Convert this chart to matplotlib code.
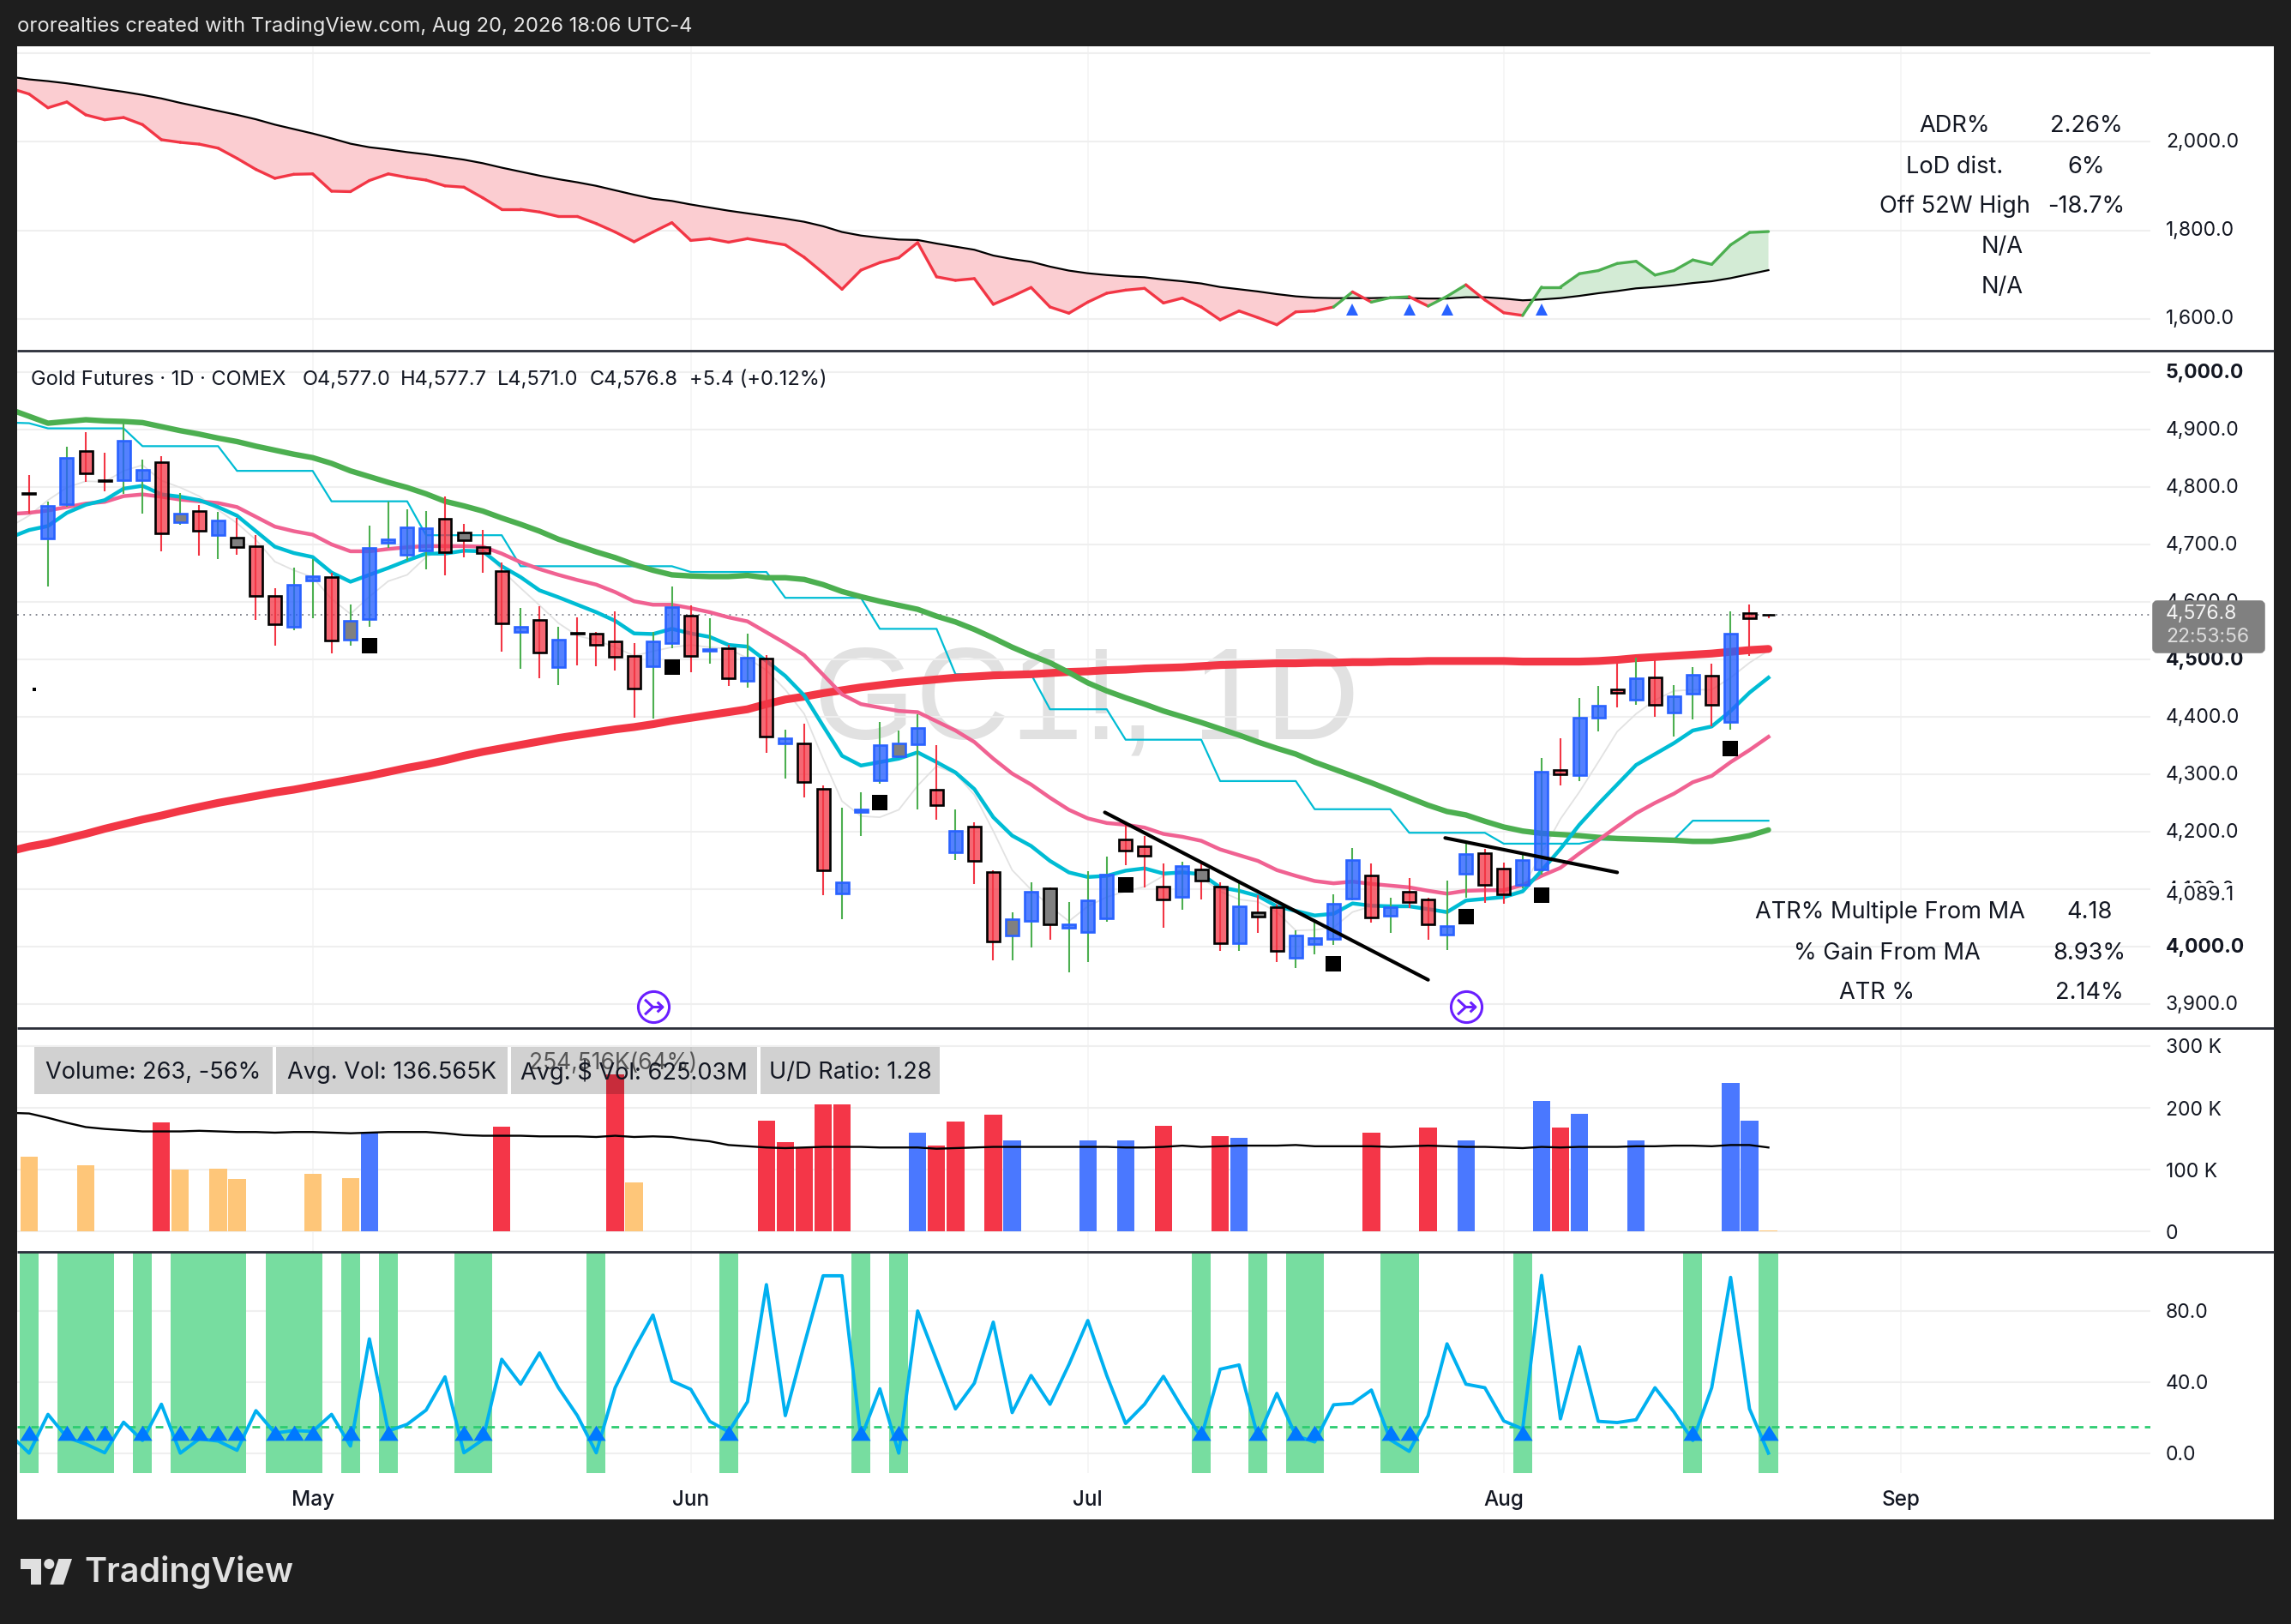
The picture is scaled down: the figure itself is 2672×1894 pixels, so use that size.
import numpy as np
import matplotlib
matplotlib.use("Agg")
import matplotlib.pyplot as plt
from matplotlib.patches import Rectangle, Polygon, Circle, FancyBboxPatch
from matplotlib.path import Path
from matplotlib.transforms import ScaledTranslation

plt.rcParams['font.family'] = ['Inter', 'DejaVu Sans']

# ---------- data ----------
opens = [4790,4710,4770,4862,4812,4812,4812,4843,4739,4758,4717,4712,4697,4611,4556,4637,4643,4534,4570,4703,
         4682,4690,4745,4721,4695,4654,4548,4569,4486,4546,4544,4531,4506,4488,4528,4576,4515,4519,4463,4502,
         4353,4354,4275,4093,4234,4289,4331,4352,4273,4164,4209,4129,4019,4044,4101,4032,4025,4049,4187,4175,
         4105,4087,4134,4105,4006,4059,4068,3980,4005,4013,4084,4124,4053,4095,4082,4020,4127,4163,4135,4108,
         4134,4307,4298,4399,4447,4429,4468,4408,4440,4472,4391,4580,4577.0]
highs = [4821,4774,4870,4895,4860,4918,4847,4854,4790,4769,4756,4746,4716,4623,4659,4674,4651,4596,4733,4775,
         4761,4758,4783,4736,4725,4669,4589,4593,4557,4573,4547,4583,4528,4547,4626,4594,4572,4525,4544,4508,
         4377,4388,4281,4242,4269,4391,4376,4404,4350,4239,4216,4132,4060,4112,4103,4078,4131,4157,4214,4192,
         4145,4148,4145,4112,4111,4090,4073,4028,4047,4091,4172,4145,4085,4119,4085,4114,4180,4170,4146,4164,
         4328,4363,4432,4453,4494,4503,4498,4455,4486,4493,4583,4596,4577.7]
lows = [4754,4627,4765,4809,4793,4788,4753,4688,4734,4681,4674,4682,4568,4523,4551,4571,4511,4523,4557,4694,
        4672,4656,4646,4677,4650,4513,4483,4467,4455,4489,4488,4481,4399,4397,4519,4477,4493,4454,4451,4337,
        4293,4260,4090,4047,4192,4284,4328,4238,4221,4151,4109,3976,3976,3998,4012,3955,3973,4043,4141,4103,
        4032,4064,4082,3993,3992,4023,3973,3963,3986,4003,4081,4042,4024,4067,4011,3994,4085,4076,4075,4102,
        4125,4281,4288,4375,4417,4421,4400,4366,4396,4384,4378,4506,4571.0]
closes = [4788,4767,4850,4824,4810,4880,4829,4720,4753,4724,4741,4695,4610,4561,4629,4644,4533,4567,4694,4709,
          4730,4728,4687,4707,4685,4563,4557,4512,4534,4544,4525,4504,4449,4531,4591,4506,4518,4467,4503,4365,
          4363,4286,4133,4112,4238,4351,4354,4381,4246,4202,4149,4009,4047,4096,4039,4038,4081,4125,4167,4158,
          4082,4140,4114,4006,4070,4052,3993,4019,4015,4075,4151,4051,4069,4078,4039,4035,4161,4107,4091,4151,
          4305,4300,4399,4419,4441,4467,4420,4436,4473,4420,4544,4571,4576.8]
gray_bars = [8, 11, 17, 23, 46, 52, 54, 62, 65]
signal_bars = [18, 34, 45, 58, 69, 76, 80, 90]
signal_prices = [4524, 4487, 4251, 4108, 3970, 4052, 4090, 4345]
last_price = 4576.8

# moving averages: first value belongs to the bar just left of the view
ma_slow = [4935,4923,4911,4914,4917,4915,4914,4912,4905,4898,4892,4885,4879,4871,4864,4857,4851,4841,4828,4818,4808,
           4799,4788,4775,4767,4758,4746,4735,4723,4709,4698,4687,4677,4665,4655,4647,4645,4644,4644,4646,4642,
           4642,4639,4630,4618,4609,4601,4594,4587,4575,4565,4552,4537,4521,4507,4494,4477,4459,4445,4433,4422,
           4410,4400,4390,4379,4368,4356,4345,4335,4321,4309,4297,4285,4272,4259,4246,4235,4229,4218,4208,4201,
           4197,4195,4193,4190,4188,4187,4186,4185,4183,4183,4187,4193,4203]
ma_long = [4166,4174,4180,4188,4196,4205,4213,4221,4228,4236,4243,4250,4256,4262,4268,4273,4279,4285,4291,4297,4304,
           4311,4317,4324,4332,4339,4345,4351,4357,4363,4368,4373,4378,4382,4387,4393,4398,4403,4408,4413,4422,
           4430,4435,4441,4446,4451,4455,4459,4462,4465,4468,4470,4472,4473,4474,4476,4478,4479,4481,4482,4484,
           4485,4486,4488,4490,4491,4492,4493,4493,4494,4494,4495,4495,4496,4496,4497,4497,4497,4497,4497,4496,
           4496,4496,4496,4497,4499,4502,4504,4506,4508,4510,4513,4516,4518]
ma_mid = [4753,4755,4759,4765,4771,4774,4784,4787,4783,4778,4775,4772,4765,4748,4731,4723,4717,4700,4688,4688,4692,
          4695,4697,4697,4697,4696,4684,4669,4657,4647,4638,4630,4617,4601,4595,4595,4589,4582,4573,4566,4547,
          4528,4507,4473,4439,4422,4416,4410,4408,4392,4376,4356,4327,4301,4282,4259,4238,4223,4215,4212,4207,
          4196,4191,4184,4169,4159,4149,4133,4123,4114,4110,4113,4109,4106,4103,4097,4092,4097,4098,4098,4107,
          4123,4137,4162,4185,4209,4232,4250,4266,4286,4297,4321,4342,4365]
ma_fast = [4712,4725,4732,4755,4769,4777,4797,4802,4787,4783,4777,4765,4750,4723,4696,4685,4678,4651,4635,4647,4659,
           4672,4684,4684,4689,4688,4662,4643,4620,4608,4595,4582,4567,4545,4544,4553,4545,4539,4525,4522,4497,
           4471,4437,4384,4332,4315,4321,4327,4338,4321,4303,4274,4225,4193,4175,4149,4129,4121,4123,4132,4136,
           4127,4129,4126,4103,4097,4088,4070,4062,4054,4057,4075,4071,4070,4070,4065,4060,4080,4083,4086,4096,
           4132,4170,4212,4248,4282,4316,4335,4354,4376,4383,4410,4442,4468]
ma_thin = [4731,4750,4777,4799,4810,4809,4828,4838,4811,4799,4784,4760,4737,4708,4670,4655,4643,4605,4579,4609,4636,
           4647,4678,4693,4697,4693,4655,4624,4594,4563,4541,4533,4521,4506,4514,4521,4525,4521,4518,4502,4481,
           4447,4405,4327,4253,4227,4225,4238,4280,4314,4301,4264,4201,4133,4099,4070,4044,4070,4086,4096,4104,
           4123,4133,4120,4096,4082,4078,4060,4028,4029,4033,4060,4070,4070,4070,4065,4057,4078,4084,4086,4102,
           4162,4222,4269,4321,4374,4405,4429,4445,4447,4447,4468,4494,4515]
stair = [4912,4911,4902,4902,4902,4902,4902,4871,4871,4871,4871,4871,4828,4828,4828,4828,4828,4775,4775,4775,4775,
         4775,4716,4716,4716,4716,4716,4662,4662,4662,4662,4662,4662,4662,4662,4662,4652,4652,4652,4652,4652,
         4607,4607,4607,4607,4607,4553,4553,4553,4553,4474,4474,4474,4474,4474,4413,4413,4413,4413,4360,4360,
         4360,4360,4360,4288,4288,4288,4288,4288,4239,4239,4239,4239,4239,4198,4198,4198,4198,4198,4179,4179,
         4179,4179,4179,4186,4186,4186,4186,4186,4219,4219,4219,4219,4219]
trend_a_x = [56.9, 74.0]
trend_a_y = [4233.5, 3942]
trend_b_x = [74.9, 84.0]
trend_b_y = [4189, 4129]
event_bars = [33, 76]
event_level = 3895

# relative strength pane
rs_line = [2120,2107,2076,2089,2060,2049,2054,2038,2004,1998,1994,1985,1962,1937,1917,1926,1927,1888,1887,1912,1927,
           1919,1913,1900,1897,1873,1847,1847,1841,1831,1831,1815,1796,1774,1796,1817,1777,1781,1773,1781,1774,
           1767,1739,1704,1667,1710,1727,1738,1772,1695,1687,1691,1633,1651,1671,1627,1613,1638,1658,1665,1669,
           1636,1647,1627,1598,1618,1603,1587,1616,1618,1627,1661,1638,1648,1650,1629,1651,1677,1643,1614,1608,
           1672,1672,1702,1709,1725,1730,1699,1709,1733,1723,1767,1795,1797]
rs_ma = [2146,2140,2136,2131,2125,2118,2112,2105,2097,2087,2078,2069,2060,2050,2038,2028,2018,2007,1995,1987,1982,
         1976,1971,1965,1959,1951,1941,1932,1923,1915,1908,1900,1890,1880,1871,1866,1858,1851,1844,1838,1832,
         1826,1819,1809,1796,1788,1783,1779,1778,1770,1763,1756,1743,1735,1729,1718,1709,1703,1699,1696,1694,
         1689,1685,1680,1672,1667,1662,1656,1651,1648,1647,1647,1647,1648,1647,1646,1646,1649,1649,1646,1642,
         1644,1647,1652,1658,1663,1669,1672,1676,1681,1685,1692,1701,1710]
rs_marks = [70, 73, 75, 80]
rs_mark_level = 1622

# volume pane (thousands)
vol_idx = [0,3,7,8,10,11,15,17,18,25,31,32,39,40,41,42,43,47,48,49,51,52,56,58,60,63,64,71,74,76,80,81,82,85,90,91,92]
vol_val = [121,107,176,100,102,85,93,87,160,169,254,80,179,144,137,205,205,160,139,178,189,147,147,147,171,154,151,160,168,148,211,168,190,147,241,180,2]
vol_kind = ['o','o','r','o','o','o','o','o','b','r','r','o','r','r','r','r','r','b','r','r','r','b','b','b','r','r','b','r','r','b','b','r','b','b','b','b','o']
vol_ma = [192,191,184,176,169,166,164,162,162,162,163,162,161,161,160,161,161,160,159,160,161,161,161,159,156,155,155,155,154,
          154,154,153,155,153,154,153,149,146,140,138,136,135,136,137,137,137,136,136,136,134,135,136,137,137,137,137,137,137,
          137,136,136,137,139,137,138,139,139,139,140,138,138,138,138,137,138,139,138,137,137,136,135,137,136,137,137,137,138,
          138,139,139,138,140,140,136]

# oscillator pane
osc = [10.3,0,21.8,8.9,5.1,0.2,17.4,7.1,27.5,0,8,6.8,1.6,23.9,11.3,12.7,12.2,21.8,4,64.3,12.4,16.2,24.2,42.9,0.2,7.5,
       52.8,38.8,56.4,36.8,21.1,0.2,36.8,58.5,77.7,40.6,35.9,17.9,12,28.9,94.8,21.1,61.1,99.8,99.8,8.4,36.2,0,80,52.4,
       24.9,39.4,73.7,22.8,43.7,27.5,49.8,74.6,43.7,16.7,27.5,43.2,25.4,8.9,47.2,49.6,8.9,33.6,9.8,6.3,27.2,28,35.5,7.5,
       1,21.1,61.5,38.8,36.8,18.1,13.6,100,19.3,59.8,17.9,17.2,18.8,36.8,23.2,7.1,36.8,98.9,24.9,0]
osc_level = 14.6
osc_zone = [0,2,3,4,6,8,9,10,11,13,14,15,17,19,23,24,30,37,44,46,62,65,67,68,72,73,79,88,92]

month_pos = [15, 35, 56, 78, 99]
month_names = ['May', 'Jun', 'Jul', 'Aug', 'Sep']
price_ticks = list(range(3900, 5001, 100))
price_bold = [4000, 4500, 5000]
rs_ticks = [1600, 1800, 2000, 2200]
rs_labelled = [1600, 1800, 2000]
vol_ticks = [0, 100, 200, 300]
vol_tick_names = ['0', '100 K', '200 K', '300 K']
osc_ticks = [0, 40, 80]

# ---------- layout ----------
W, H = 2672, 1894
DARK = '#1e1e1e'; INK = '#131722'; GRID = '#efefef'; VGRID = '#f4f4f4'
RED = '#f23645'; BLUE = '#2962ff'; GREEN = '#4caf50'
fig = plt.figure(figsize=(W/100, H/100), dpi=100, facecolor=DARK)

def pane(top, bottom, z=1):
    a = fig.add_axes([20/W, 1-bottom/H, (2507.5-20)/W, (bottom-top)/H], zorder=z)
    a.patch.set_visible(False)
    for s in a.spines.values():
        s.set_visible(False)
    a.set_xlim(-0.63, 112.18)
    a.set_xticks(month_pos)
    a.set_xticklabels([])
    a.tick_params(length=0, labelsize=16.5, labelcolor=INK)
    a.yaxis.tick_right()
    a.tick_params(axis='y', pad=13.3)
    a.grid(True, axis='x', color=VGRID, lw=1.1)
    a.grid(True, axis='y', color=GRID, lw=1.5)
    a.set_axisbelow(True)
    return a

def lift_labels(a, px):
    shift = ScaledTranslation(0, px/100, fig.dpi_scale_trans)
    for lab in a.get_yticklabels():
        lab.set_transform(lab.get_transform() + shift)

bg = fig.add_axes([0, 0, 1, 1], zorder=0)
bg.set_xlim(0, W); bg.set_ylim(H, 0); bg.axis('off')
bg.add_patch(Rectangle((20, 54), 2632, 1718, fc='white', ec='none'))

ax_rs = pane(54, 409)
ax_p = pane(409, 1199)
ax_v = pane(1199, 1459.5)
ax_o = pane(1459.5, 1718)

x_all = np.arange(-1, 93)
x = np.arange(93)

# ---------- top pane ----------
ax_rs.set_ylim(1528.5, 2214.5)
ax_rs.set_yticks(rs_ticks)
ax_rs.set_yticklabels([f'{t:,.1f}' if t in rs_labelled else '' for t in rs_ticks])
lift_labels(ax_rs, 2)
rs = np.array(rs_line, float); rm = np.array(rs_ma, float)
ax_rs.fill_between(x_all, rs, rm, where=rs < rm, interpolate=True, color='#fbcdd1', lw=0, zorder=2)
ax_rs.fill_between(x_all, rs, rm, where=rs >= rm, interpolate=True, color='#d3ebd5', lw=0, zorder=2)
ax_rs.plot(x_all, rs_ma, color='black', lw=1.6, zorder=3)
for j in range(len(x_all)-1):
    ax_rs.plot(x_all[j:j+2], rs[j:j+2], color=GREEN if rs[j+1] >= rm[j+1] else RED,
               lw=2.4, solid_capstyle='round', zorder=4)
ax_rs.plot(rs_marks, [rs_mark_level]*len(rs_marks), ls='none', marker='^', ms=10, color=BLUE, mew=0, zorder=5)

# ---------- price pane ----------
ax_p.set_ylim(3858, 5037.2)
ax_p.set_yticks(price_ticks)
ax_p.set_yticklabels([f'{t:,.1f}' for t in price_ticks])
for lab, t_ in zip(ax_p.get_yticklabels(), price_ticks):
    if t_ in price_bold:
        lab.set_fontweight('bold')
lift_labels(ax_p, 1.5)
ax_p.text(0.3735, 0.476, 'GC1!, 1D', transform=ax_p.transAxes, fontsize=110, color='#e1e1e1',
          family='Liberation Sans', ha='left', va='center', zorder=0.5)
ax_p.axhline(last_price, color='#787b86', lw=1.3, ls=(0, (1, 3)), zorder=1)
ax_p.plot(x_all, stair, color='#00bcd4', lw=1.6, zorder=2)
ax_p.plot(x_all, ma_thin, color='#e2e2e2', lw=1.3, zorder=2)
ax_p.plot(x_all, ma_long, color=RED, lw=6.6, zorder=2, solid_capstyle='round')
ax_p.plot(x_all, ma_slow, color=GREEN, lw=4.6, zorder=2.1, solid_capstyle='round')
ax_p.plot(x_all, ma_mid, color='#f06292', lw=3.2, zorder=2.2)
ax_p.plot(x_all, ma_fast, color='#00bcd4', lw=3.2, zorder=2.3)
o = np.array(opens, float); c = np.array(closes, float)
up = c >= o
ax_p.vlines(x, lows, highs, colors=[GREEN if u else RED for u in up], lw=1.5, zorder=3)
face = []; edge = []
for i in x:
    if i in gray_bars:
        face.append('#808080')
    elif up[i]:
        face.append((0x29/255, 0x62/255, 1, 0.8))
    else:
        face.append((0xf2/255, 0x36/255, 0x45/255, 0.75))
    edge.append(BLUE if up[i] else 'black')
ax_p.bar(x, np.abs(c-o), bottom=np.minimum(o, c), width=0.68, color=face, edgecolor=edge, linewidth=1.9, zorder=4)
ax_p.plot(signal_bars, signal_prices, ls='none', marker='s', ms=13, color='black', mew=0, zorder=5)
ax_p.plot([0.26], [4447], ls='none', marker='s', ms=3, color='black', mew=0, zorder=5)
ax_p.plot(trend_a_x, trend_a_y, color='black', lw=3, zorder=6, solid_capstyle='round')
ax_p.plot(trend_b_x, trend_b_y, color='black', lw=3, zorder=6, solid_capstyle='round')
PURPLE = '#6a1fff'
ax_p.plot(event_bars, [event_level]*2, ls='none', marker='o', ms=26, mfc='white', mec=PURPLE, mew=2.2, zorder=6)
glyph = Path([(-0.5, 0.42), (-0.05, 0), (-0.5, -0.42), (-0.05, 0), (0.5, 0), (0.2, 0.28), (0.5, 0), (0.2, -0.28)],
             [Path.MOVETO, Path.LINETO, Path.LINETO, Path.MOVETO, Path.LINETO, Path.MOVETO, Path.LINETO, Path.LINETO])
ax_p.plot(event_bars, [event_level]*2, ls='none', marker=glyph, ms=15, mfc='none', mec=PURPLE, mew=2.2, zorder=7)

# ---------- volume pane ----------
ax_v.set_ylim(-32, 329)
ax_v.set_yticks(vol_ticks)
ax_v.set_yticklabels(vol_tick_names)
colour = {'o': '#fec679', 'r': '#f43648', 'b': '#4a78ff'}
ax_v.bar(vol_idx, vol_val, width=0.92, color=[colour[k] for k in vol_kind], zorder=2)
ax_v.plot(x_all, vol_ma, color='black', lw=1.7, zorder=3)

# ---------- oscillator pane ----------
ax_o.set_ylim(-11.24, 113.5)
ax_o.set_yticks(osc_ticks)
ax_o.set_yticklabels([f'{t:.1f}' for t in osc_ticks])
ax_o.bar(osc_zone, [140]*len(osc_zone), bottom=-20, width=1.0, color='#77dda0', lw=0, zorder=2)
ax_o.axhline(osc_level, color='#2ecc71', lw=2, ls=(0, (3.2, 2.6)), zorder=3)
ax_o.plot(x_all, osc, color='#00b0f0', lw=2.8, zorder=4)
tri = Path([(-0.5, -0.4), (0.5, -0.4), (0, 0.4), (-0.5, -0.4)], closed=True)
ax_o.plot(osc_zone, [11.5]*len(osc_zone), ls='none', marker=tri, ms=16, color='#0078ff', mew=0, zorder=5)
ax_o.set_xticklabels(month_names, fontsize=17.5, fontweight='medium', color=INK)
ax_o.tick_params(axis='x', pad=14.5)

# ---------- chrome and tables ----------
ov = fig.add_axes([0, 0, 1, 1], zorder=10)
ov.set_xlim(0, W); ov.set_ylim(H, 0); ov.axis('off'); ov.patch.set_visible(False)
for yy in (409, 1199, 1459.5):
    ov.plot([20, 2652], [yy, yy], color='#2a2e39', lw=2, solid_capstyle='butt')

def t(px, py, s, ha='center', size=19.6, color=INK, **kw):
    ov.text(px, py, s, ha=ha, va='center', fontsize=size, color=color, **kw)

t(20, 31, 'ororealties created with TradingView.com, Aug 20, 2026 18:06 UTC-4', ha='left', color='#e6e6e6', size=17.1)
for px, s in [(36, 'Gold Futures · 1D · COMEX'), (352.5, 'O4,577.0'), (466.7, 'H4,577.7'),
              (579.8, 'L4,571.0'), (687.7, 'C4,576.8'), (803.7, '+5.4 (+0.12%)')]:
    t(px, 443, s, ha='left', size=17)

# upper table
for py, a, b in [(147, 'ADR%', '2.26%'), (194.7, 'LoD dist.', '6%'), (241, 'Off 52W High', '-18.7%')]:
    t(2280, py, a); t(2433, py, b)
t(2335, 288, 'N/A'); t(2335, 335, 'N/A')
# lower table
for px, py, a, b in [(2204.6, 1064, 'ATR% Multiple From MA', '4.18'), (2201, 1111.5, '% Gain From MA', '8.93%'),
                     (2189, 1158, 'ATR %', '2.14%')]:
    t(px, py, a); t(2437, py, b)

# price tags
ov.add_patch(Rectangle((2512, 1030), 130, 29, fc='white', ec='none'))
t(2526, 1043.5, '4,089.1', ha='left', size=16.5)
ov.add_patch(FancyBboxPatch((2513, 703), 126, 56, boxstyle='round,pad=0,rounding_size=3', fc='#808080', ec='#808080', lw=4))
t(2526, 715.5, '4,576.8', ha='left', color='#f5f5f5', size=16.5)
t(2526, 743, '22:53:56', ha='left', color='#dddddd', size=16.5)

# volume stat boxes
t(715, 1240, '254,516K(64%)', color='#555555', size=19)
for x0, x1, s in [(40, 318, 'Volume: 263, -56%'), (322, 592, 'Avg. Vol: 136.565K'),
                  (596, 883, 'Avg. $ Vol: 625.03M'), (887, 1096, 'U/D Ratio: 1.28')]:
    ov.add_patch(Rectangle((x0, 1221), x1-x0, 54.6, fc=(0, 0, 0, 0.18), ec='none'))
    t((x0+x1)/2, 1250.5, s)

# footer logo
LOGO = '#e0e0e0'
ov.add_patch(Polygon([(24, 1818), (48, 1818), (48, 1848), (36, 1848), (36, 1830), (24, 1830)], fc=LOGO, ec='none'))
ov.add_patch(Circle((57.3, 1824), 6, fc=LOGO, ec='none'))
ov.add_patch(Polygon([(68.3, 1818), (84, 1818), (74, 1848), (58.3, 1848)], fc=LOGO, ec='none'))
t(98, 1833, 'TradingView', ha='left', color=LOGO, size=28.4, fontweight='semibold')

fig.savefig('out.png', dpi=100, facecolor=DARK)
